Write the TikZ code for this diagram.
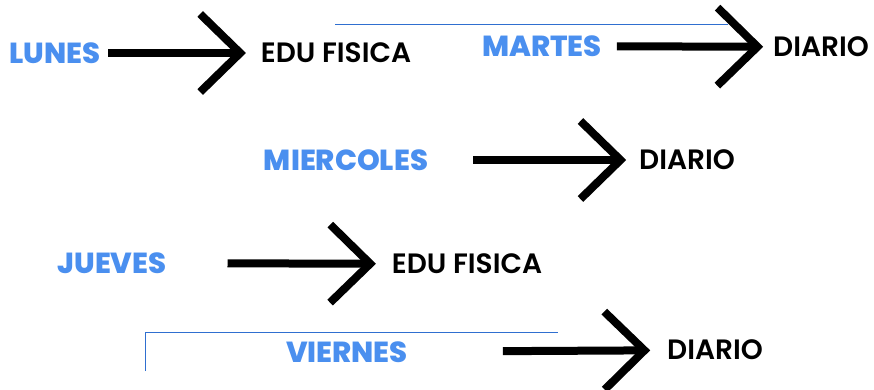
\documentclass[tikz,border=0pt]{standalone}
\usepackage{fontspec}
\setmainfont{Poppins}[UprightFont=* Medium, BoldFont=* ExtraBold]
\newfontfamily\taskfont{Poppins}[UprightFont=* SemiBold]
\usetikzlibrary{arrows.meta}
\definecolor{dayblue}{HTML}{4A8FEF}
\definecolor{lineblue}{HTML}{2F6FD0}

\begin{document}
\begin{tikzpicture}[x=1pt,y=-1pt,
    day/.style={font=\fontsize{29}{32}\selectfont\bfseries, text=dayblue, inner sep=0pt, outer sep=0pt},
    task/.style={font=\fontsize{28}{31}\selectfont\taskfont, text=black, inner sep=0pt, outer sep=0pt},
    big/.style={line width=8pt, -{Straight Barb[length=40pt,width=78pt]}},
    rule/.style={lineblue, line width=1pt}
  ]
    \useasboundingbox (0,0) rectangle (874,390);

    % thin lines
    \draw[rule] (335,25) -- (728,25);
    \draw[rule] (145,371) |- (558,332);

    % days
    \node[day]  (lun) at (55,53)   {LUNES};
    \node[day]  (mar) at (542,46)  {MARTES};
    \node[day]  (mie) at (346,160) {MIERCOLES};
    \node[day]  (jue) at (112,263) {JUEVES};
    \node[day]  (vie) at (347,352) {VIERNES};

    % what to bring
    \node[task] (edu1) at (336,53)  {EDU FISICA};
    \node[task] (dia1) at (821,47)  {DIARIO};
    \node[task] (dia2) at (687,160) {DIARIO};
    \node[task] (edu2) at (467,264) {EDU FISICA};
    \node[task] (dia3) at (715,350) {DIARIO};

    % arrows
    \draw[big, shorten <=8pt,  shorten >=15pt] (lun) -- (edu1);
    \draw[big, shorten <=15pt, shorten >=10pt] (mar) -- (dia1);
    \draw[big, shorten <=45pt, shorten >=13pt] (mie) -- (dia2);
    \draw[big, shorten <=61pt, shorten >=16pt] (jue) -- (edu2);
    \draw[big, shorten <=95pt, shorten >=17pt] (vie) -- (dia3);
\end{tikzpicture}
\end{document}
